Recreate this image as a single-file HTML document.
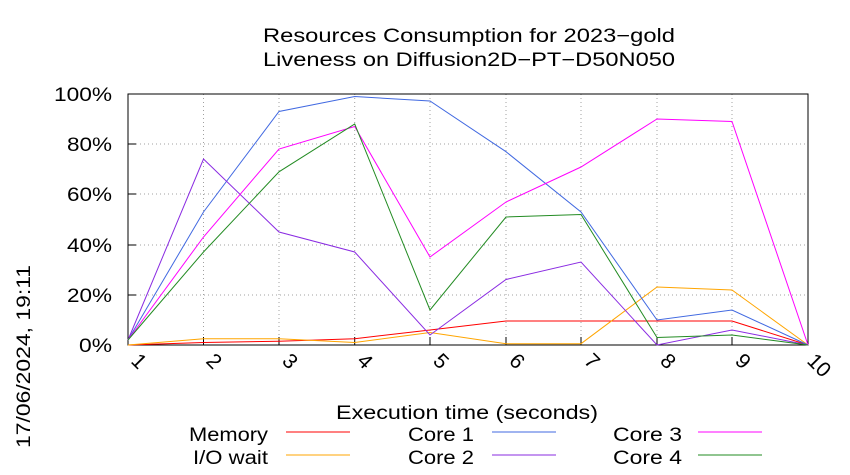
<!DOCTYPE html>
<html><head><meta charset="utf-8"><style>
body{margin:0;background:#fff;}
svg{display:block;font-family:"Liberation Sans",sans-serif;}
</style></head><body>
<svg width="850" height="475" xmlns="http://www.w3.org/2000/svg">
<rect width="850" height="475" fill="#fff"/>
<g font-size="19" fill="#000">
<text x="263" y="42" textLength="412" lengthAdjust="spacingAndGlyphs">Resources Consumption for 2023−gold</text>
<text x="263" y="66" textLength="412" lengthAdjust="spacingAndGlyphs">Liveness on Diffusion2D−PT−D50N050</text>
</g>
<g stroke="#a0a0a0" stroke-width="1" stroke-dasharray="1,3">
<line x1="128" y1="295" x2="808" y2="295"/><line x1="128" y1="245" x2="808" y2="245"/>
<line x1="128" y1="194" x2="808" y2="194"/><line x1="128" y1="144" x2="808" y2="144"/>
<line x1="203.5" y1="94" x2="203.5" y2="345"/><line x1="279" y1="94" x2="279" y2="345"/>
<line x1="354.7" y1="94" x2="354.7" y2="345"/><line x1="430" y1="94" x2="430" y2="345"/>
<line x1="506" y1="94" x2="506" y2="345"/><line x1="581" y1="94" x2="581" y2="345"/>
<line x1="657" y1="94" x2="657" y2="345"/><line x1="732" y1="94" x2="732" y2="345"/>
</g>
<rect x="128" y="94" width="680" height="251" fill="none" stroke="#000" stroke-width="1"/>
<g stroke="#000">
<line x1="128" y1="295" x2="136" y2="295"/><line x1="128" y1="245" x2="136" y2="245"/><line x1="128" y1="194" x2="136" y2="194"/><line x1="128" y1="144" x2="136" y2="144"/>
<line x1="203.5" y1="345" x2="203.5" y2="337"/><line x1="279" y1="345" x2="279" y2="337"/><line x1="354.7" y1="345" x2="354.7" y2="337"/><line x1="430" y1="345" x2="430" y2="337"/><line x1="506" y1="345" x2="506" y2="337"/><line x1="581" y1="345" x2="581" y2="337"/><line x1="657" y1="345" x2="657" y2="337"/><line x1="732" y1="345" x2="732" y2="337"/>
</g>
<g font-size="19">
<text x="79" y="352" textLength="33" lengthAdjust="spacingAndGlyphs">0%</text>
<text x="67" y="302" textLength="45" lengthAdjust="spacingAndGlyphs">20%</text>
<text x="67" y="252" textLength="45" lengthAdjust="spacingAndGlyphs">40%</text>
<text x="67" y="201" textLength="45" lengthAdjust="spacingAndGlyphs">60%</text>
<text x="67" y="151" textLength="45" lengthAdjust="spacingAndGlyphs">80%</text>
<text x="54" y="101" textLength="58" lengthAdjust="spacingAndGlyphs">100%</text>
</g>
<g font-size="21">
<text transform="translate(130,362) rotate(45)">1</text>
<text transform="translate(205,362) rotate(45)">2</text>
<text transform="translate(281,362) rotate(45)">3</text>
<text transform="translate(356,362) rotate(45)">4</text>
<text transform="translate(432,362) rotate(45)">5</text>
<text transform="translate(508,362) rotate(45)">6</text>
<text transform="translate(583,362) rotate(45)">7</text>
<text transform="translate(659,362) rotate(45)">8</text>
<text transform="translate(734,362) rotate(45)">9</text>
<text transform="translate(806,362) rotate(45)">10</text>
</g>
<text x="336" y="419" font-size="19" textLength="262" lengthAdjust="spacingAndGlyphs">Execution time (seconds)</text>
<text transform="translate(30,448) rotate(-90)" font-size="19" textLength="183" lengthAdjust="spacingAndGlyphs">17/06/2024, 19:11</text>
<g fill="none" stroke-width="1">
<polyline stroke="#ff0000" points="128,345 203.5,342.5 279,341.2 354.7,338.7 430,330 506,321 581,321 657,321 732,321 808,345"/>
<polyline stroke="#ffa500" points="128,345 203.5,338.7 279,338.7 354.7,342.5 430,332.5 506,343.7 581,343.7 657,287 732,290 808,345"/>
<polyline stroke="#4169e1" points="128,340 203.5,212 279,111.5 354.7,96.5 430,101 506,151.7 581,212 657,320 732,310 808,345"/>
<polyline stroke="#8a2be2" points="128,340 203.5,159 279,232 354.7,252 430,335 506,279.5 581,262 657,345 732,330 808,345"/>
<polyline stroke="#ff00ff" points="128,340 203.5,237 279,149 354.7,126.5 430,257 506,202 581,167 657,119 732,121.5 808,345"/>
<polyline stroke="#228b22" points="128,340 203.5,252 279,171.8 354.7,124 430,310 506,217 581,214.5 657,337.5 732,335 808,345"/>
</g>
<g font-size="19">
<text x="189" y="441" textLength="79" lengthAdjust="spacingAndGlyphs">Memory</text>
<text x="193" y="464" textLength="75" lengthAdjust="spacingAndGlyphs">I/O wait</text>
<text x="408" y="441" textLength="66" lengthAdjust="spacingAndGlyphs">Core 1</text>
<text x="408" y="464" textLength="66" lengthAdjust="spacingAndGlyphs">Core 2</text>
<text x="613" y="441" textLength="69" lengthAdjust="spacingAndGlyphs">Core 3</text>
<text x="613" y="464" textLength="69" lengthAdjust="spacingAndGlyphs">Core 4</text>
</g>
<g stroke-width="1">
<line x1="286" y1="432" x2="350" y2="432" stroke="#ff0000"/>
<line x1="286" y1="455" x2="350" y2="455" stroke="#ffa500"/>
<line x1="492" y1="432" x2="556" y2="432" stroke="#4169e1"/>
<line x1="492" y1="455" x2="556" y2="455" stroke="#8a2be2"/>
<line x1="698" y1="432" x2="762" y2="432" stroke="#ff00ff"/>
<line x1="698" y1="455" x2="762" y2="455" stroke="#228b22"/>
</g>
</svg>
</body></html>
